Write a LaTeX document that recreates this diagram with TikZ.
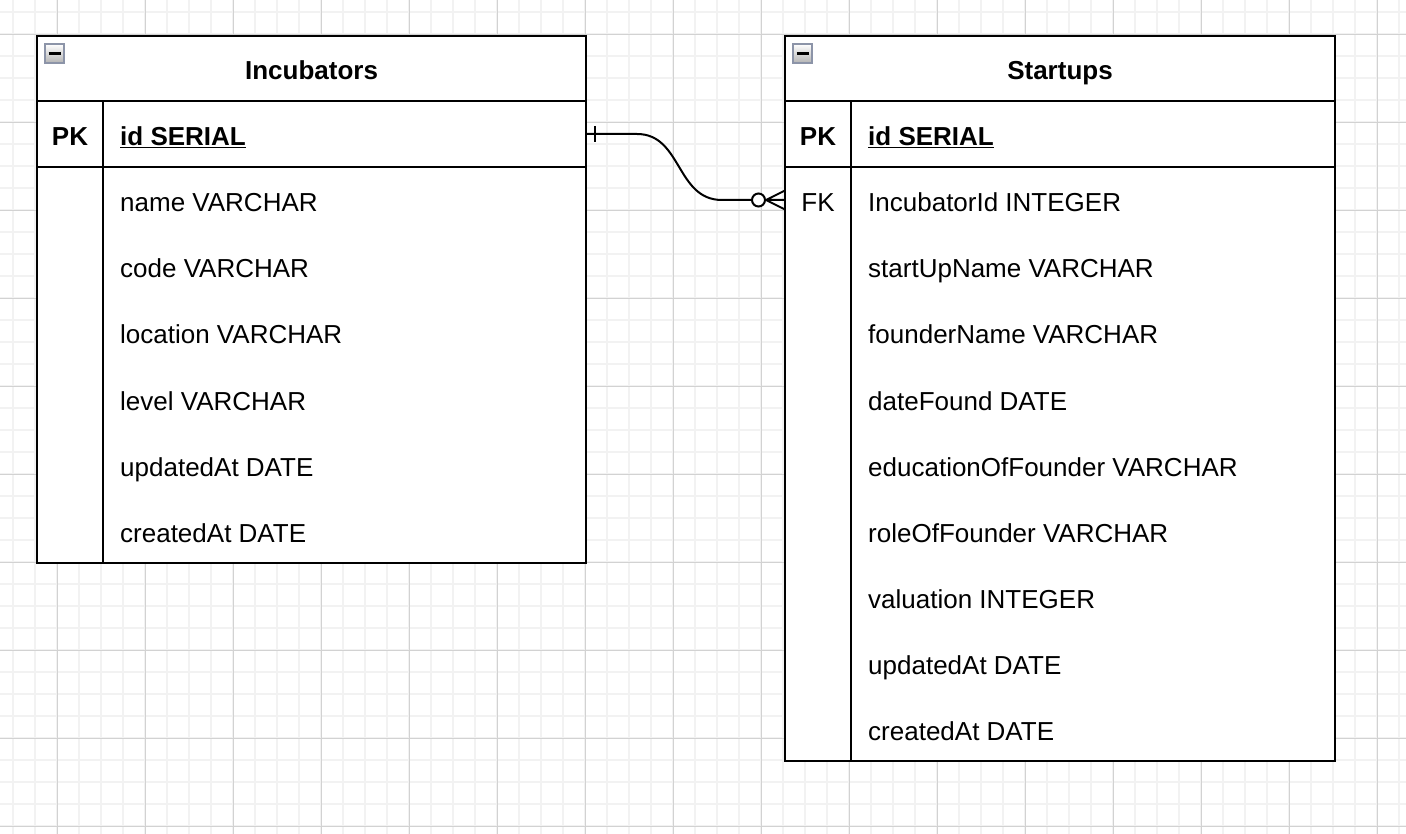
\documentclass[tikz,border=0pt]{standalone}
\usepackage{fontspec}
\setmainfont{Liberation Sans}
\usepackage{tikz}
\usetikzlibrary{calc}
\usetikzlibrary{positioning}
\usetikzlibrary{shapes}
\definecolor{minorgrid}{HTML}{F2F2F2}
\definecolor{majorgrid}{HTML}{D2D2D2}
\definecolor{iconedge}{HTML}{8C94A8}
\tikzset{
  tbl/.style={line width=2pt},
  fld/.style={anchor=base west, inner sep=0pt, font=\fontsize{26}{31}\selectfont},
  keyfld/.style={anchor=base, inner sep=0pt, font=\fontsize{26}{31}\selectfont},
  ttl/.style={anchor=base, inner sep=0pt, font=\fontsize{26}{31}\selectfont\bfseries},
  minbox/.style={draw=iconedge, line width=1.5pt, top color=white, bottom color=black!30},
  minbar/.style={line width=3pt},
  rel/.style={line width=2pt},
}

\begin{document}
\begin{tikzpicture}[x=1pt, y=-1pt]
  \useasboundingbox (0,0) rectangle (1406,834);
  \fill[white] (0,0) rectangle (1406,834);

  % background grid
  \foreach \i in {0,...,63} \draw[minorgrid, line width=2pt] ({13.3+22*\i},0) -- ({13.3+22*\i},834);
  \foreach \i in {0,...,37} \draw[minorgrid, line width=2pt] (0,{12.3+22*\i}) -- (1406,{12.3+22*\i});
  \foreach \i in {0,...,15} \draw[majorgrid, line width=1pt] ({57.3+88*\i},0) -- ({57.3+88*\i},834);
  \foreach \i in {0,...,9} \draw[majorgrid, line width=1pt] (0,{34.3+88*\i}) -- (1406,{34.3+88*\i});

  % Incubators
  \draw[tbl, fill=white] (37,36) rectangle (586,563);
  \draw[tbl] (37,101) -- (586,101);
  \draw[tbl] (37,167) -- (586,167);
  \draw[tbl] (103,101) -- (103,563);
  \draw[minbox] (45,44) rectangle (64,63);
  \draw[minbar] (48.5,53.5) -- (60.5,53.5);
  \node[ttl] (incT) at (311.5,80) {Incubators};
  \node[keyfld, font=\fontsize{26}{31}\selectfont\bfseries] (incPK) at (70,146) {PK};
  \node[fld, font=\fontsize{26}{31}\selectfont\bfseries] (incId) at (120,146) {\underline{id SERIAL}};
  \foreach \txt [count=\i] in {name VARCHAR, code VARCHAR, location VARCHAR,
      level VARCHAR, updatedAt DATE, createdAt DATE}
    \node[fld] (inc\i) at (120,{146+66*\i}) {\txt};

  % Startups
  \draw[tbl, fill=white] (785,36) rectangle (1335,761);
  \draw[tbl] (785,101) -- (1335,101);
  \draw[tbl] (785,167) -- (1335,167);
  \draw[tbl] (851,101) -- (851,761);
  \draw[minbox] (793,44) rectangle (812,63);
  \draw[minbar] (796.5,53.5) -- (808.5,53.5);
  \node[ttl] (stT) at (1060,80) {Startups};
  \node[keyfld, font=\fontsize{26}{31}\selectfont\bfseries] (stPK) at (818,146) {PK};
  \node[fld, font=\fontsize{26}{31}\selectfont\bfseries] (stId) at (868,146) {\underline{id SERIAL}};
  \node[keyfld] (stFK) at (818,212) {FK};
  \foreach \txt [count=\i] in {IncubatorId INTEGER, startUpName VARCHAR, founderName VARCHAR,
      dateFound DATE, educationOfFounder VARCHAR, roleOfFounder VARCHAR,
      valuation INTEGER, updatedAt DATE, createdAt DATE}
    \node[fld] (st\i) at (868,{146+66*\i}) {\txt};

  % relation: one to zero-or-many
  \coordinate (incOut) at (586,134);
  \coordinate (stIn) at (785,200);
  \node[circle, draw, line width=2pt, fill=white, minimum size=13pt, inner sep=0pt] (zero) at (758.5,200) {};
  \draw[rel] (incOut) -- ($(incOut)+(51,0)$)
    .. controls ($(incOut)+(96,0)$) and ($(zero.west)+(-75,0)$) .. ($(zero.west)+(-29,0)$) -- (zero.west);
  \draw[rel] ($(incOut)+(9,-8)$) -- ($(incOut)+(9,8)$);
  \draw[rel] (zero.east) -- ($(stIn)+(0,-9.5)$)
    (zero.east) -- (stIn)
    (zero.east) -- ($(stIn)+(0,9.5)$);
\end{tikzpicture}
\end{document}
